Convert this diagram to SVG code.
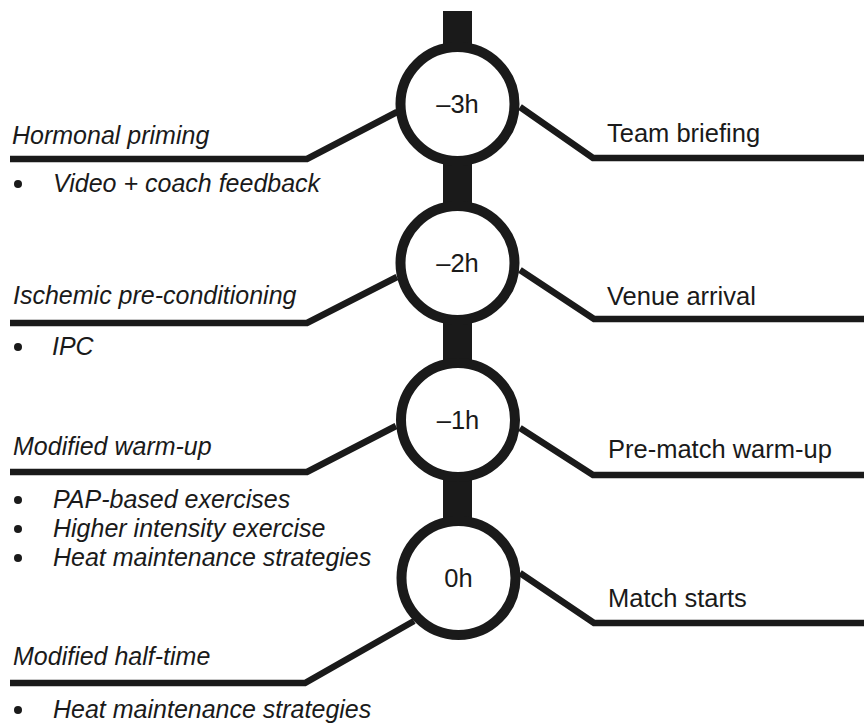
<svg xmlns="http://www.w3.org/2000/svg" width="864" height="724" viewBox="0 0 864 724">
<style>
text{font-family:"Liberation Sans",Arial,sans-serif;fill:#1a1a1a;font-size:25.5px}
.it{font-style:italic;font-size:25px}
.lbl{text-anchor:middle;dominant-baseline:central}
.ln{fill:none;stroke:#1a1a1a;stroke-width:6.5;stroke-linejoin:miter}
.node circle{fill:#fff;stroke:#1a1a1a;stroke-width:10}
.dot{fill:#1a1a1a}
</style>
<rect width="864" height="724" fill="#fff"/>
<g id="connectors">
<rect x="443" y="11" width="29" height="510" fill="#1a1a1a"/>
<polyline class="ln" points="10,159 307,159 397,112"/>
<polyline class="ln" points="520,107 593,158 864,158"/>
<polyline class="ln" points="10,323 307,323 397,277"/>
<polyline class="ln" points="520,270 594,319 864,319"/>
<polyline class="ln" points="10,472 307,472 396,426"/>
<polyline class="ln" points="520,428 593,475 864,475"/>
<polyline class="ln" points="10,683 305,683 414,621"/>
<polyline class="ln" points="520,573 594,623 864,623"/>
</g>
<g id="n3h" class="node"><circle cx="457.5" cy="104" r="57"/><text class="lbl" x="457.5" y="104">–3h</text></g>
<g id="n2h" class="node"><circle cx="457.5" cy="263" r="57"/><text class="lbl" x="457.5" y="263">–2h</text></g>
<g id="n1h" class="node"><circle cx="458" cy="420" r="57"/><text class="lbl" x="458" y="420">–1h</text></g>
<g id="n0h" class="node"><circle cx="458.5" cy="578" r="57"/><text class="lbl" x="458.5" y="578">0h</text></g>
<g id="right-labels">
<text x="607" y="142">Team briefing</text>
<text x="607" y="305">Venue arrival</text>
<text x="608" y="458">Pre-match warm-up</text>
<text x="608" y="607">Match starts</text>
</g>
<g id="left-hormonal">
<text class="it" x="12" y="144">Hormonal priming</text>
<circle class="dot" cx="18" cy="184" r="4"/>
<text class="it" x="53" y="192">Video + coach feedback</text>
</g>
<g id="left-ischemic">
<text class="it" x="13" y="304">Ischemic pre-conditioning</text>
<circle class="dot" cx="18" cy="347" r="4"/>
<text class="it" x="52" y="355">IPC</text>
</g>
<g id="left-warmup">
<text class="it" x="13" y="455">Modified warm-up</text>
<circle class="dot" cx="18" cy="500" r="4"/>
<text class="it" x="53" y="508">PAP-based exercises</text>
<circle class="dot" cx="18" cy="529" r="4"/>
<text class="it" x="53" y="537">Higher intensity exercise</text>
<circle class="dot" cx="18" cy="558" r="4"/>
<text class="it" x="53" y="566">Heat maintenance strategies</text>
</g>
<g id="left-halftime">
<text class="it" x="13" y="665">Modified half-time</text>
<circle class="dot" cx="18" cy="710" r="4"/>
<text class="it" x="53" y="718">Heat maintenance strategies</text>
</g>
</svg>
